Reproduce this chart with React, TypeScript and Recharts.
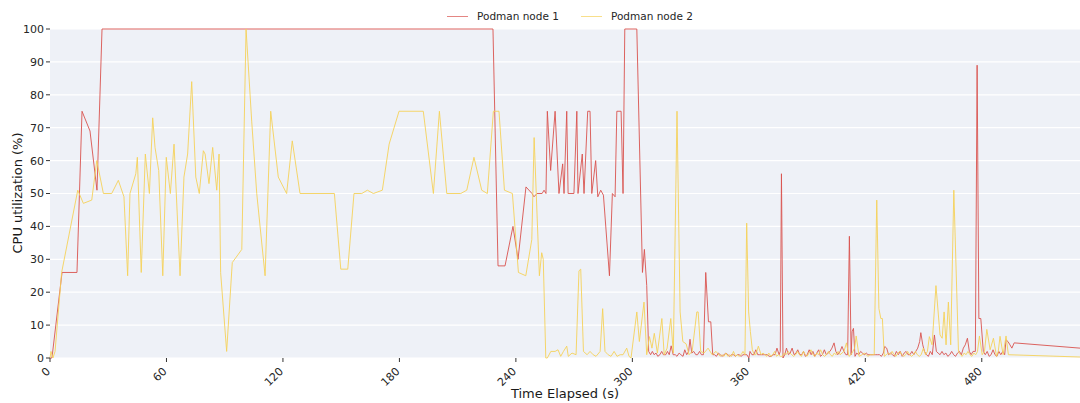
import { LineChart, Line, XAxis, YAxis, CartesianGrid } from 'recharts';

// [seconds elapsed, cpu %]
const node1Samples: [number, number][] = [
  [0, 0], [1, 0], [6.2, 26], [13.9, 26], [16.5, 75], [20.6, 69], [24.2, 51], [26.8, 100],
  [228.2, 100], [230.8, 28], [234.4, 28], [238.5, 40], [241.1, 30], [245.2, 52], [248.3, 50],
  [249.3, 49], [250.9, 50], [253.5, 50], [254.5, 51], [255.5, 50], [256.2, 75], [257.9, 57],
  [260.2, 75], [262.2, 50], [264.1, 59], [264.8, 50], [266.2, 75], [266.9, 50], [269.9, 50],
  [271.4, 75], [272.0, 50], [274.2, 62], [275.1, 50], [277.0, 75], [278.2, 75], [279.1, 50],
  [281.1, 60], [282.2, 49], [283.7, 51], [285.1, 49.5], [288.2, 25], [289.7, 50], [291.1, 49],
  [292.0, 75], [294.2, 75], [295.2, 50], [296.1, 100], [302.3, 100], [305.2, 26], [306.2, 33],
  [307.4, 22], [308.4, 2], [309.4, 1], [310.3, 2], [311.2, 1], [312.2, 1.5], [313.1, 0.5],
  [314.2, 1], [315.1, 2], [316.0, 1], [317.2, 1], [318.1, 2], [319.0, 1], [320.0, 3.7],
  [321.0, 1], [322.1, 1], [323.0, 0.5], [324.1, 1.5], [325.0, 1], [326.1, 0.5], [327.0, 2.5],
  [328.0, 1], [329.0, 2], [329.7, 5.7], [330.6, 1.5], [331.6, 2], [332.7, 1], [333.6, 1],
  [334.6, 2], [335.6, 1], [336.6, 1], [337.8, 26], [339.2, 11], [340.4, 11], [341.4, 1],
  [342.3, 1], [343.3, 0.5], [344.3, 1.5], [345.3, 1], [346.2, 0.5], [347.2, 1], [348.2, 1.5],
  [349.2, 1], [350.2, 0.5], [351.1, 1], [352.1, 1], [353.1, 0.5], [354.1, 1], [355.0, 1],
  [356.0, 0.5], [357.0, 1], [358.0, 1], [359.0, 1], [360.0, 0], [360.6, 2], [361.6, 1],
  [362.6, 1], [363.6, 2.5], [364.6, 1], [365.6, 1], [366.5, 1], [367.5, 1], [368.5, 1],
  [369.5, 1], [370.5, 0.5], [371.5, 0.5], [372.5, 1], [373.5, 1], [374.5, 3], [375.6, 1],
  [376.2, 2], [376.8, 56], [377.6, 0], [378.5, 1], [379.4, 3], [380.4, 1], [381.3, 1.5],
  [382.3, 3], [383.3, 1], [384.3, 1.5], [385.2, 2.5], [386.2, 1], [387.2, 1], [388.2, 2],
  [389.1, 0.5], [390.1, 1], [391.1, 2.5], [392.1, 1], [393.0, 2], [394.0, 0.5], [395.0, 1.5],
  [396.0, 2.5], [396.9, 0.5], [397.9, 1], [398.9, 2.5], [399.9, 1], [400.9, 1.5], [401.8, 2],
  [402.8, 3], [403.9, 4.6], [404.8, 2], [405.8, 1], [407.0, 2], [408.0, 3.5], [409.0, 2],
  [410.0, 1], [410.9, 1], [411.8, 37], [412.7, 1], [413.2, 8], [413.9, 9], [414.7, 0.5],
  [415.6, 1.5], [416.6, 1], [417.6, 2], [418.5, 1.5], [419.5, 1], [420.5, 1.5], [421.4, 1],
  [422.4, 1], [423.4, 1], [424.3, 1], [425.3, 1], [426.3, 1], [427.3, 1], [428.3, 0.5],
  [429.3, 1.5], [430.0, 3.5], [431.0, 3], [432.0, 1], [433.0, 1.5], [434.0, 1], [435.0, 0.5],
  [436.0, 2], [437.0, 1], [438.0, 2], [439.0, 0.5], [440.0, 1.5], [441.0, 2], [442.0, 1],
  [443.0, 1], [444.0, 2], [445.0, 1], [446.0, 2], [447.0, 3], [448.0, 5], [448.6, 7.7],
  [449.6, 4], [450.5, 2], [451.5, 1], [452.5, 0.5], [453.5, 2], [454.5, 1], [455.6, 7],
  [456.6, 2], [457.5, 1.5], [458.5, 1], [459.5, 2], [460.5, 1], [461.5, 1.5], [462.5, 0.5],
  [463.5, 1], [464.5, 2], [465.5, 1], [466.5, 0.5], [467.5, 1.5], [468.5, 2], [469.5, 1],
  [470.5, 3], [471.5, 4], [472.6, 6], [473.6, 2], [474.5, 1], [475.5, 2], [476.7, 2],
  [477.6, 89], [478.5, 12], [479.5, 12], [480.8, 2], [481.8, 1], [482.8, 2], [483.8, 0.5],
  [484.8, 1], [485.8, 2.5], [486.8, 1], [487.8, 0.5], [488.8, 2], [489.8, 1], [490.8, 2],
  [491.8, 1], [492.5, 5.5], [493.5, 5], [494.5, 4], [495.5, 3], [496.7, 4.6], [530.6, 3],
];

const node2Samples: [number, number][] = [
  [0, 0], [0.5, 2], [1.5, 0], [2.6, 2], [6.0, 26], [14.3, 51], [17.2, 47], [21.5, 48],
  [24.1, 60], [27.5, 50], [31.8, 50], [35.2, 54], [38.1, 49], [40.0, 25], [41.2, 50],
  [44.2, 56], [45.0, 61], [47.0, 26], [49.1, 62], [51.2, 50], [52.9, 73], [54.1, 64],
  [56.0, 57], [58.1, 25], [59.9, 61], [62.0, 50], [63.9, 65], [67.0, 25], [69.0, 55],
  [70.9, 62], [73.0, 84], [75.1, 55], [76.9, 50], [79.0, 63], [79.9, 62], [81.9, 53],
  [83.8, 64], [85.9, 51], [87.1, 62], [87.9, 26], [91.0, 2], [93.9, 29], [98.8, 33],
  [101.0, 100], [103.9, 72], [106.5, 50], [110.8, 25], [113.7, 75], [117.6, 55], [121.9, 50],
  [124.8, 66], [128.8, 50], [146.5, 50], [149.8, 27], [153.4, 27], [156.6, 50], [160.6, 50],
  [163.5, 51], [166.6, 50], [171.2, 51], [174.7, 65], [179.8, 75], [192.3, 75], [197.5, 50],
  [200.6, 75], [204.4, 50], [211.6, 50], [214.7, 51], [218.4, 61], [222.4, 51], [225.3, 50],
  [228.4, 75], [231.3, 75], [234.1, 51], [238.2, 50], [241.3, 26], [245.1, 25], [248.2, 36],
  [249.4, 67], [252.1, 25], [253.3, 32], [254.1, 30], [255.4, 0], [256.2, 0], [258.0, 2],
  [260.2, 2], [261.7, 2.5], [263.1, 0.5], [264.5, 2], [266.2, 3.6], [267.0, 0.5], [268.9, 1.5],
  [271.0, 1], [272.5, 26.5], [273.4, 27], [274.8, 2], [276.7, 1], [278.2, 2], [279.8, 1],
  [281.3, 0.5], [283.4, 2], [284.7, 15], [285.9, 2], [287.5, 1], [289.0, 0.5], [290.6, 2],
  [292.1, 0.5], [293.7, 1], [295.2, 1], [297.1, 3], [298.3, 0.5], [299.3, 0], [302.3, 14],
  [303.6, 5], [306.0, 17], [307.4, 1], [308.8, 6.5], [310.1, 3], [311.3, 7.5], [312.9, 1.5],
  [315.2, 12], [316.4, 1], [317.9, 3], [319.8, 12], [321.1, 1.5], [323.0, 75], [324.6, 14],
  [326.0, 5], [327.7, 4.3], [329.2, 1], [330.8, 2], [333.2, 14], [333.9, 14], [335.2, 2],
  [336.9, 1.5], [339.0, 3], [341.1, 1], [343.1, 2], [345.2, 0.5], [346.2, 1], [347.2, 0.5],
  [348.2, 1.5], [349.2, 0.5], [350.2, 1], [351.1, 0.5], [352.1, 2], [353.1, 0.5], [354.1, 1],
  [355.0, 0.5], [356.0, 1], [357.0, 2], [358.0, 1], [358.9, 41], [359.9, 14], [360.8, 8],
  [361.8, 2.5], [362.8, 1], [363.6, 1], [364.9, 3.6], [366.3, 1], [367.3, 1.5], [368.3, 1],
  [369.3, 0.5], [370.3, 1.5], [371.3, 0.5], [372.3, 1], [373.3, 2], [374.3, 0.5], [375.2, 1],
  [376.2, 0.5], [377.2, 0.5], [378.2, 1.5], [379.2, 1], [380.2, 2], [381.2, 1.5], [382.1, 1],
  [383.1, 0.5], [384.1, 1], [385.1, 2], [386.1, 1], [387.1, 0.5], [388.1, 2], [389.1, 1],
  [390.0, 0.5], [391.0, 1.5], [392.0, 2.5], [393.0, 1], [394.0, 0.5], [395.0, 1.5], [396.0, 1],
  [397.0, 2.5], [398.0, 1], [399.0, 0.5], [400.0, 1], [401.0, 2], [402.0, 1], [403.0, 0.5],
  [404.0, 1.5], [405.0, 1], [406.0, 2], [407.0, 1], [408.0, 1.5], [409.0, 2], [410.3, 4.6],
  [411.6, 0.5], [412.6, 1], [413.6, 2], [414.5, 3], [415.3, 6.7], [416.8, 0.5], [418.4, 1],
  [419.4, 1.5], [420.4, 1], [421.4, 0.5], [422.4, 1], [423.4, 1], [424.6, 1], [425.9, 48],
  [427.0, 15], [428.0, 12], [428.8, 12], [429.8, 0.5], [430.8, 1], [431.8, 1.5], [432.8, 1],
  [433.8, 2], [434.8, 1], [435.8, 0.5], [436.8, 1.5], [437.8, 2], [438.8, 1], [439.8, 0.5],
  [440.8, 1], [441.8, 2], [442.8, 1], [443.8, 0.5], [444.8, 1], [445.8, 2], [446.8, 1],
  [447.8, 0.5], [448.8, 1], [449.9, 3], [451.0, 1], [452.0, 2], [453.0, 6.5], [454.4, 4],
  [456.4, 22], [458.5, 7], [459.6, 6], [460.6, 14], [461.6, 4], [462.8, 17], [464.0, 4],
  [465.6, 51], [468.0, 2], [469.0, 1], [469.9, 0.5], [470.9, 1.5], [471.9, 1], [472.9, 2],
  [473.9, 1], [474.9, 0.5], [475.9, 1.5], [476.9, 1], [477.8, 2], [478.8, 6.7], [480.2, 1],
  [481.4, 2], [482.6, 8.7], [484.3, 2.5], [486.0, 6], [487.6, 0.5], [488.5, 2], [489.4, 6.6],
  [491.0, 1], [492.5, 6.7], [493.7, 1], [530.6, 0.3],
];

const seriesNames = ['Podman node 1', 'Podman node 2'];
const xTicks = [0, 60, 120, 180, 240, 300, 360, 420, 480];
const yTicks = [0, 10, 20, 30, 40, 50, 60, 70, 80, 90, 100];

const RED = '#d9534f';
const YELLOW = '#f5d15a';
const FONT = 'DejaVu Sans, sans-serif';

const node1 = node1Samples.map(([t, cpu]) => ({ t, cpu }));
const node2 = node2Samples.map(([t, cpu]) => ({ t, cpu }));

const XTick = ({ x, y, payload }: any) => (
  <g transform={`translate(${x + 1},${y + 8})`}>
    <text textAnchor="end" transform="rotate(-45)" fontSize={11} fill="#262626" fontFamily={FONT}>
      {payload.value}
    </text>
  </g>
);

const LegendBox = () => (
  <div
    style={{
      position: 'absolute',
      top: 9,
      left: 447,
      display: 'flex',
      alignItems: 'center',
      fontFamily: FONT,
      fontSize: 10.5,
      lineHeight: '14px',
      color: '#262626',
      whiteSpace: 'nowrap',
    }}
  >
    {seriesNames.map((name, i) => (
      <span key={name} style={{ display: 'flex', alignItems: 'center', marginRight: i === 0 ? 22 : 0 }}>
        <span style={{ width: 21, height: 0, borderTop: `1.5px solid ${i === 0 ? RED : YELLOW}`, opacity: 0.7, marginRight: 9 }} />
        {name}
      </span>
    ))}
  </div>
);

export default function App() {
  return (
    <div style={{ position: 'absolute', left: 0, top: 0, width: 1080, height: 403 }}>
      <style>{'body{margin:0}'}</style>
      <LegendBox />
      <LineChart width={1080} height={403} margin={{ top: 29, right: 0, bottom: 0, left: 0 }}>
        <CartesianGrid vertical={false} stroke="#ffffff" strokeWidth={1.2} fill="#eef1f7" />
        <XAxis
          type="number"
          dataKey="t"
          domain={[0, 530.6]}
          ticks={xTicks}
          axisLine={false}
          tickSize={4}
          tickLine={{ stroke: '#333' }}
          tick={<XTick />}
          height={45}
          label={{ value: 'Time Elapsed (s)', position: 'insideBottom', offset: 5, fontSize: 13, fill: '#1a1a1a', fontFamily: FONT }}
        />
        <YAxis
          type="number"
          domain={[0, 100]}
          ticks={yTicks}
          axisLine={false}
          tickSize={4}
          tickLine={{ stroke: '#333' }}
          width={50}
          tick={{ fontSize: 11, fill: '#262626', fontFamily: FONT }}
          label={{
            content: () => (
              <text x={17} y={193} transform="rotate(-90 17 193)" textAnchor="middle" dominantBaseline="central" fontSize={13} fill="#1a1a1a" fontFamily={FONT}>
                CPU utilization (%)
              </text>
            ),
          }}
        />
        <Line data={node1} dataKey="cpu" name={seriesNames[0]} stroke={RED} strokeOpacity={0.9} strokeWidth={1} dot={false} isAnimationActive={false} />
        <Line data={node2} dataKey="cpu" name={seriesNames[1]} stroke={YELLOW} strokeOpacity={0.9} strokeWidth={1} dot={false} isAnimationActive={false} />
      </LineChart>
    </div>
  );
}
